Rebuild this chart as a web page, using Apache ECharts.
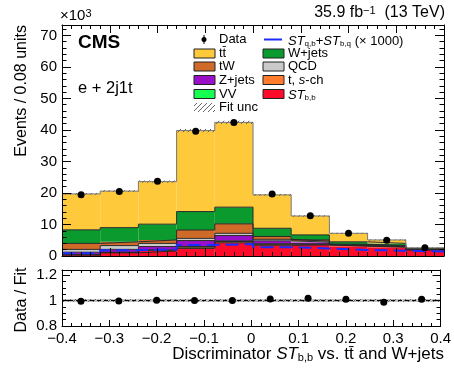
<!DOCTYPE html>
<html>
<head>
<meta charset="utf-8">
<script src="https://cdn.jsdelivr.net/npm/echarts@6/dist/echarts.min.js"></script>
<style>
  html, body { margin: 0; padding: 0; background: #fff; }
  #chart { width: 454px; height: 370px; }
</style>
</head>
<body>
<div id="chart"></div>
<script>
// bin edges of the discriminator (width 0.08)
const edges = [-0.4, -0.32, -0.24, -0.16, -0.08, 0, 0.08, 0.16, 0.24, 0.32, 0.4]

// stacked contributions, events x 10^3 per bin (bottom to top)
const stBB = [0.3, 1.0, 1.6, 2.4, 4.2, 3.4, 3.5, 3.1, 2.8, 1.9]
const tSch = [0.1, 0.1, 0.2, 0.4, 0.4, 0.3, 0.2, 0.15, 0.15, 0.1]
const vv = [0.1, 0.1, 0.1, 0.2, 0.2, 0.2, 0.1, 0.05, 0.05, 0.05]
const zJets = [0.7, 0.9, 1.1, 1.9, 1.7, 0.9, 0.6, 0.2, 0.15, 0.05]
const qcd = [0.9, 1.2, 1.0, 0.7, 0.7, 0.5, 0.3, 0.1, 0.05, 0.05]
const tW = [1.9, 1.2, 1.1, 2.65, 3.0, 0.9, 0.4, 0.15, 0.1, 0.05]
const wJets = [4.3, 4.5, 5.0, 5.85, 5.3, 2.6, 1.6, 0.75, 0.7, 0.1]
const ttbar = [11.4, 11.6, 13.5, 25.7, 26.9, 10.6, 6.0, 2.7, 1.1, 0.3]

// ST_q,b + ST_b,q scaled x 1000
const stQB = [0.9, 1.8, 2.1, 3.5, 3.8, 2.8, 2.4, 1.9, 1.7, 1.4]
// fit uncertainty (half width)
const fitUnc = [0.3, 0.3, 0.35, 0.5, 0.5, 0.3, 0.25, 0.2, 0.15, 0.1]

const dataVals = [19.4, 20.5, 23.7, 39.6, 42.4, 19.7, 12.8, 7.2, 5.0, 2.65]
const ratioVals = [0.995, 0.997, 1.002, 1.0, 1.0, 1.013, 1.018, 1.01, 0.987, 1.01]
const ratioUnc = [0.012, 0.012, 0.012, 0.012, 0.012, 0.012, 0.012, 0.012, 0.012, 0.012]

const layers = [
  { vals: stBB, color: '#ff0a28' },
  { vals: tSch, color: '#ff7b2e' },
  { vals: vv, color: '#16ff50' },
  { vals: zJets, color: '#9a10c8' },
  { vals: qcd, color: '#cacaca' },
  { vals: tW, color: '#d06a28' },
  { vals: wJets, color: '#0b9a2e' },
  { vals: ttbar, color: '#fec93b' }
]

const FONT = 'Liberation Sans'

// hatch pattern for the fit uncertainty
const hatch = document.createElement('canvas')
hatch.width = 5
hatch.height = 5
const hc = hatch.getContext('2d')
hc.strokeStyle = '#666'
hc.lineWidth = 1
hc.beginPath()
hc.moveTo(0, 5); hc.lineTo(5, 0)
hc.moveTo(-1, 1); hc.lineTo(1, -1)
hc.moveTo(4, 6); hc.lineTo(6, 4)
hc.stroke()
const hatchFill = { image: hatch, repeat: 'repeat' }

const rectItem = (params, api) => {
  const p0 = api.coord([api.value(0), api.value(2)])
  const p1 = api.coord([api.value(1), api.value(3)])
  return {
    type: 'rect',
    shape: { x: p0[0], y: p1[1], width: p1[0] - p0[0], height: p0[1] - p1[1] },
    style: { fill: api.visual('color') }
  }
}

const centers = edges.slice(0, -1).map((e, i) => (e + edges[i + 1]) / 2)
const stepData = (vals) => vals.map((v, i) => [edges[i], v]).concat([[edges[edges.length - 1], vals[vals.length - 1]]])

const series = []
let base = new Array(10).fill(0)
const tops = []
layers.forEach((l) => {
  const top = base.map((b, i) => b + l.vals[i])
  const b0 = base
  series.push({
    type: 'custom',
    xAxisIndex: 0,
    yAxisIndex: 0,
    renderItem: rectItem,
    itemStyle: { color: l.color },
    encode: { x: [0, 1], y: [2, 3] },
    data: top.map((t, i) => [edges[i], edges[i + 1], b0[i], t]),
    z: 1,
    silent: true
  })
  tops.push(top)
  base = top
})
tops.forEach((top, k) => {
  series.push({
    type: 'line',
    xAxisIndex: 0,
    yAxisIndex: 0,
    step: 'end',
    symbol: 'none',
    data: stepData(top),
    lineStyle: { color: k === tops.length - 1 ? '#777' : '#2a2a2a', width: 1 },
    z: 2,
    silent: true
  })
})
const total = tops[tops.length - 1]
series.push({
  type: 'custom',
  xAxisIndex: 0,
  yAxisIndex: 0,
  renderItem: rectItem,
  itemStyle: { color: hatchFill },
  encode: { x: [0, 1], y: [2, 3] },
  data: total.map((t, i) => [edges[i], edges[i + 1], t - fitUnc[i], t + fitUnc[i]]),
  z: 3,
  silent: true
})
series.push({
  type: 'line',
  xAxisIndex: 0,
  yAxisIndex: 0,
  step: 'end',
  symbol: 'none',
  data: stepData(stQB),
  lineStyle: { color: '#1a2cff', width: 2, type: [13, 6] },
  z: 3,
  silent: true
})
series.push({
  type: 'scatter',
  xAxisIndex: 0,
  yAxisIndex: 0,
  symbolSize: 7,
  itemStyle: { color: '#000', opacity: 1 },
  data: centers.map((c, i) => [c, dataVals[i]]),
  z: 5
})
// ratio panel
series.push({
  type: 'custom',
  xAxisIndex: 2,
  yAxisIndex: 2,
  renderItem: rectItem,
  itemStyle: { color: '#c4c4c4' },
  encode: { x: [0, 1], y: [2, 3] },
  data: ratioUnc.map((u, i) => [edges[i], edges[i + 1], 1 - u, 1 + u]),
  z: 1,
  silent: true
})
series.push({
  type: 'custom',
  xAxisIndex: 2,
  yAxisIndex: 2,
  renderItem: rectItem,
  itemStyle: { color: hatchFill },
  encode: { x: [0, 1], y: [2, 3] },
  data: ratioUnc.map((u, i) => [edges[i], edges[i + 1], 1 - u, 1 + u]),
  z: 2,
  silent: true
})
series.push({
  type: 'line',
  xAxisIndex: 2,
  yAxisIndex: 2,
  symbol: 'none',
  data: [[edges[0], 1], [edges[edges.length - 1], 1]],
  lineStyle: { color: '#000', width: 1, type: [4, 3] },
  z: 3,
  silent: true
})
series.push({
  type: 'scatter',
  xAxisIndex: 2,
  yAxisIndex: 2,
  symbolSize: 7,
  itemStyle: { color: '#000', opacity: 1 },
  data: centers.map((c, i) => [c, ratioVals[i]]),
  z: 5
})

const minus = (v) => String(Math.round(v * 10) / 10).replace('-', '\u2212')

const xAxisBase = (grid, pos, labels, tickLen) => ({
  type: 'value',
  gridIndex: grid,
  position: pos,
  min: -0.4,
  max: 0.4,
  interval: 0.1,
  z: 10,
  axisLine: { show: true, onZero: false, lineStyle: { color: '#000', width: 1 } },
  axisTick: { show: true, inside: true, length: tickLen, lineStyle: { color: '#000' } },
  minorTick: { show: true, splitNumber: 5, length: tickLen / 2, lineStyle: { color: '#000' } },
  splitLine: { show: false },
  axisLabel: {
    show: labels,
    formatter: minus,
    color: '#000',
    fontFamily: FONT,
    fontSize: 15,
    margin: 5,
    showMinLabel: true,
    showMaxLabel: true
  }
})

const yAxisBase = (grid, pos, min, max, interval, labels, tickLen) => ({
  type: 'value',
  gridIndex: grid,
  position: pos,
  min: min,
  max: max,
  interval: interval,
  z: 10,
  axisLine: { show: true, onZero: false, lineStyle: { color: '#000', width: 1 } },
  axisTick: { show: true, inside: true, length: tickLen, lineStyle: { color: '#000' } },
  minorTick: { show: true, splitNumber: grid === 0 ? 5 : 4, length: tickLen / 2, lineStyle: { color: '#000' } },
  splitLine: { show: false },
  axisLabel: {
    show: labels,
    color: '#000',
    fontFamily: FONT,
    fontSize: 15,
    margin: 5,
    showMaxLabel: false,
    hideOverlap: false,
    formatter: (v) => {
      const r = Math.round(v / interval) * interval
      return Math.abs(r - v) > 1e-6 ? '' : String(Math.round(v * 10) / 10)
    }
  }
})

const chart = echarts.init(document.getElementById('chart'), null, { renderer: 'canvas' })
chart.setOption({
  animation: false,
  backgroundColor: '#fff',
  grid: [
    { left: 62, right: 10, top: 25, height: 231 },
    { left: 62, right: 10, top: 270, height: 56 }
  ],
  xAxis: [
    xAxisBase(0, 'bottom', false, 8),
    xAxisBase(0, 'top', false, 8),
    xAxisBase(1, 'bottom', true, 6),
    xAxisBase(1, 'top', false, 6)
  ],
  yAxis: [
    yAxisBase(0, 'left', 0, 73.3, 10, true, 9),
    yAxisBase(0, 'right', 0, 73.3, 10, false, 9),
    yAxisBase(1, 'left', 0.8, 1.24, 0.2, true, 8),
    yAxisBase(1, 'right', 0.8, 1.24, 0.2, false, 8)
  ],
  graphic: [
    { type: 'text', x: 60, y: 23, style: { text: '\u00d710{s|3}', fontFamily: FONT, fontSize: 15, fill: '#000', verticalAlign: 'bottom', rich: { s: { fontSize: 11, verticalAlign: 'top', lineHeight: 10, fontFamily: FONT } } } },
    { type: 'text', x: 445, y: 21, style: { text: '35.9 fb{s|\u22121}  (13 TeV)', align: 'right', verticalAlign: 'bottom', fontFamily: FONT, fontSize: 16, fill: '#000', rich: { s: { fontSize: 11, verticalAlign: 'top', lineHeight: 10, fontFamily: FONT } } } },
    { type: 'text', x: 78, y: 43, style: { text: 'CMS', fontFamily: FONT, fontWeight: 'bold', fontSize: 19, fill: '#000', verticalAlign: 'middle' } },
    { type: 'text', x: 78, y: 88, style: { text: 'e + 2j1t', fontFamily: FONT, fontSize: 16.5, fill: '#000', verticalAlign: 'middle' } },
    { type: 'text', x: 22, y: 25, rotation: Math.PI / 2, style: { text: 'Events / 0.08 units', fontFamily: FONT, fontSize: 16, fill: '#000', align: 'right', verticalAlign: 'middle' } },
    { type: 'text', x: 22, y: 300, rotation: Math.PI / 2, style: { text: 'Data / Fit', fontFamily: FONT, fontSize: 16, fill: '#000', align: 'center', verticalAlign: 'middle' } },
    { type: 'text', x: 444, y: 363, style: { text: 'Discriminator {i|ST}{s|b,b} vs. tt\u0304 and W+jets', align: 'right', verticalAlign: 'bottom', fontFamily: FONT, fontSize: 17, fill: '#000', rich: { i: { fontStyle: 'italic', fontSize: 17, fontFamily: FONT }, s: { fontSize: 11, verticalAlign: 'bottom', lineHeight: 10, fontFamily: FONT } } } },
    // legend, column 1
    { type: 'circle', shape: { cx: 204, cy: 39.5, r: 2.5 }, style: { fill: '#000' } },
    { type: 'line', shape: { x1: 204, y1: 35, x2: 204, y2: 44 }, style: { stroke: '#000', lineWidth: 1 } },
    { type: 'text', x: 219, y: 39.5, style: { text: 'Data', fontFamily: FONT, fontSize: 13, fill: '#000', verticalAlign: 'middle' } },
    { type: 'rect', shape: { x: 194, y: 49, width: 21, height: 9 }, style: { fill: '#fec93b', stroke: '#222', lineWidth: 1 } },
    { type: 'text', x: 219, y: 53.3, style: { text: 'tt\u0304', fontFamily: FONT, fontSize: 13, fill: '#000', verticalAlign: 'middle' } },
    { type: 'rect', shape: { x: 194, y: 62, width: 21, height: 9 }, style: { fill: '#d06a28', stroke: '#222', lineWidth: 1 } },
    { type: 'text', x: 219, y: 66.7, style: { text: 'tW', fontFamily: FONT, fontSize: 13, fill: '#000', verticalAlign: 'middle' } },
    { type: 'rect', shape: { x: 194, y: 75.5, width: 21, height: 9 }, style: { fill: '#9a10c8', stroke: '#222', lineWidth: 1 } },
    { type: 'text', x: 219, y: 80, style: { text: 'Z+jets', fontFamily: FONT, fontSize: 13, fill: '#000', verticalAlign: 'middle' } },
    { type: 'rect', shape: { x: 194, y: 89.5, width: 21, height: 9 }, style: { fill: '#16ff50', stroke: '#222', lineWidth: 1 } },
    { type: 'text', x: 219, y: 94, style: { text: 'VV', fontFamily: FONT, fontSize: 13, fill: '#000', verticalAlign: 'middle' } },
    { type: 'rect', shape: { x: 194, y: 103, width: 21, height: 9 }, style: { fill: hatchFill } },
    { type: 'text', x: 219, y: 107.3, style: { text: 'Fit unc', fontFamily: FONT, fontSize: 13, fill: '#000', verticalAlign: 'middle' } },
    // legend, column 2
    { type: 'line', shape: { x1: 264, y1: 39.5, x2: 282, y2: 39.5 }, style: { stroke: '#1a2cff', lineWidth: 2 } },
    { type: 'text', x: 288, y: 41, style: { text: '{i|ST}{s|q,b}+{i|ST}{s|b,q} (\u00d7 1000)', fontFamily: FONT, fontSize: 13, fill: '#000', verticalAlign: 'middle', rich: { i: { fontStyle: 'italic', fontSize: 13, fontFamily: FONT }, s: { fontSize: 8, verticalAlign: 'bottom', lineHeight: 8, fontFamily: FONT } } } },
    { type: 'rect', shape: { x: 263, y: 49, width: 21, height: 9 }, style: { fill: '#0b9a2e', stroke: '#222', lineWidth: 1 } },
    { type: 'text', x: 288, y: 53.3, style: { text: 'W+jets', fontFamily: FONT, fontSize: 13, fill: '#000', verticalAlign: 'middle' } },
    { type: 'rect', shape: { x: 263, y: 62, width: 21, height: 9 }, style: { fill: '#cacaca', stroke: '#222', lineWidth: 1 } },
    { type: 'text', x: 288, y: 66.7, style: { text: 'QCD', fontFamily: FONT, fontSize: 13, fill: '#000', verticalAlign: 'middle' } },
    { type: 'rect', shape: { x: 263, y: 75.5, width: 21, height: 9 }, style: { fill: '#ff7b2e', stroke: '#222', lineWidth: 1 } },
    { type: 'text', x: 288, y: 80, style: { text: 't, {i|s}-ch', fontFamily: FONT, fontSize: 13, fill: '#000', verticalAlign: 'middle', rich: { i: { fontStyle: 'italic', fontSize: 13, fontFamily: FONT } } } },
    { type: 'rect', shape: { x: 263, y: 89.5, width: 21, height: 9 }, style: { fill: '#ff0a28', stroke: '#222', lineWidth: 1 } },
    { type: 'text', x: 288, y: 95.5, style: { text: '{i|ST}{s|b,b}', fontFamily: FONT, fontSize: 13, fill: '#000', verticalAlign: 'middle', rich: { i: { fontStyle: 'italic', fontSize: 13, fontFamily: FONT }, s: { fontSize: 8, verticalAlign: 'bottom', lineHeight: 8, fontFamily: FONT } } } }
  ],
  series
})
</script>
</body>
</html>
